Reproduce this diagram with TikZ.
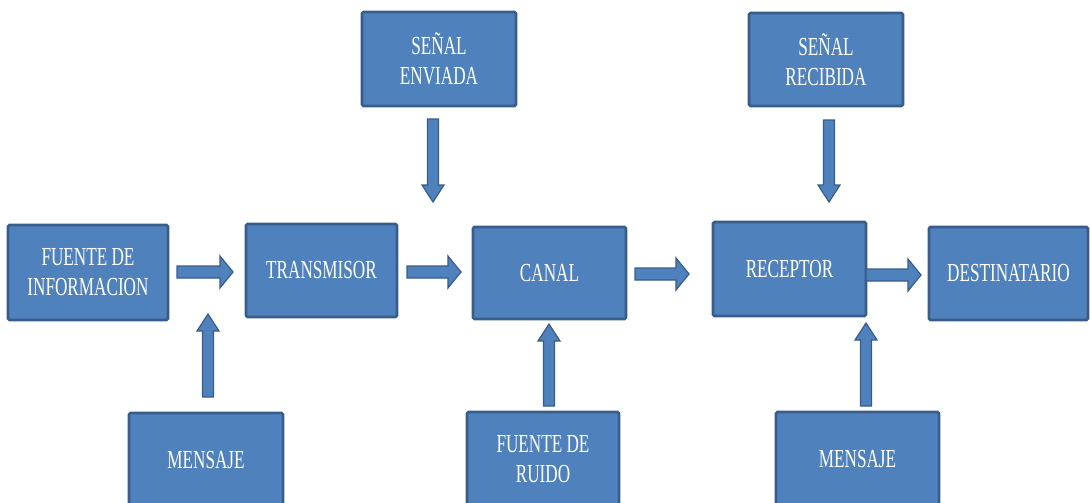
\documentclass[tikz,border=0pt]{standalone}
\usepackage{fontspec}
\usetikzlibrary{calc}
\newfontfamily\boxfont{Liberation Serif}[FakeStretch=0.66]
\definecolor{boxfill}{HTML}{4F81BD}
\definecolor{boxedge}{HTML}{385D8A}

% Block arrow: #1 tail, #2 tip, #3 half shaft width, #4 half head width, #5 head length
\newcommand{\blockarrow}[5]{%
  \coordinate (bah) at ($(#2)!#5!(#1)$);
  \filldraw[arrowbody]
    ($(#1)!#3!90:(#2)$) -- ($(bah)!#3!90:(#2)$) -- ($(bah)!#4!90:(#2)$) --
    (#2) --
    ($(bah)!#4!-90:(#2)$) -- ($(bah)!#3!-90:(#2)$) -- ($(#1)!#3!-90:(#2)$) -- cycle;
}

\begin{document}
\begin{tikzpicture}[x=1pt,y=-1pt,
  block/.style={draw=boxedge, fill=boxfill, line width=2.6pt, rounded corners=1.5pt,
    text=white, align=center, inner sep=0pt,
    font=\boxfont\fontsize{26}{30}\selectfont},
  arrowbody/.style={draw=boxedge, fill=boxfill, line width=1.2pt, line join=miter}]
\useasboundingbox (0,0) rectangle (1090,503);
\clip (0,0) rectangle (1090,503);

% main chain
\node[block, minimum width=160pt, minimum height=95pt] (fuente) at (88,272.5) {FUENTE DE\\INFORMACION};
\node[block, minimum width=151pt, minimum height=93pt] (trans) at (321.5,270.5) {TRANSMISOR};
\node[block, minimum width=153pt, minimum height=92pt] (canal) at (549.5,273) {CANAL};
\node[block, minimum width=153pt, minimum height=94pt] (recep) at (789.5,269) {RECEPTOR};
\node[block, minimum width=159pt, minimum height=93pt] (dest) at (1008.5,273.5) {DESTINATARIO};

% upper boxes
\node[block, minimum width=154pt, minimum height=94pt] (senv) at (439,59) {SEÑAL\\ENVIADA};
\node[block, minimum width=154pt, minimum height=93pt] (srec) at (826,59.5) {SEÑAL\\RECIBIDA};

% lower boxes
\node[block, minimum width=154pt, minimum height=94pt] (mens1) at (206,460) {MENSAJE};
\node[block, minimum width=152pt, minimum height=94pt] (ruido) at (543,459) {FUENTE DE\\RUIDO};
\node[block, minimum width=163pt, minimum height=94pt] (mens2) at (857.5,459) {MENSAJE};

% arrow end points
\coordinate (a1s) at (177,272);  \coordinate (a1e) at (233,272);
\coordinate (a2s) at (407,272);  \coordinate (a2e) at (461,272);
\coordinate (a3s) at (635,274);  \coordinate (a3e) at (689,274);
\coordinate (a4s) at (866,275);  \coordinate (a4e) at (921,275);
\coordinate (d1s) at (433,119);  \coordinate (d1e) at (433,202);
\coordinate (d2s) at (829,120);  \coordinate (d2e) at (829,202);
\coordinate (u1s) at (208,397);  \coordinate (u1e) at (208,314);
\coordinate (u2s) at (549,406);  \coordinate (u2e) at (549,324);
\coordinate (u3s) at (866,406);  \coordinate (u3e) at (866,323);

% horizontal arrows
\blockarrow{a1s}{a1e}{6pt}{16pt}{13pt}
\blockarrow{a2s}{a2e}{6pt}{16pt}{13pt}
\blockarrow{a3s}{a3e}{6pt}{16pt}{13pt}
\blockarrow{a4s}{a4e}{6pt}{16pt}{13pt}

% vertical arrows
\blockarrow{d1s}{d1e}{5.5pt}{11pt}{17pt}
\blockarrow{d2s}{d2e}{5.5pt}{11pt}{17pt}
\blockarrow{u1s}{u1e}{5.5pt}{11pt}{17pt}
\blockarrow{u2s}{u2e}{5.5pt}{11pt}{17pt}
\blockarrow{u3s}{u3e}{5.5pt}{11pt}{17pt}
\end{tikzpicture}
\end{document}
